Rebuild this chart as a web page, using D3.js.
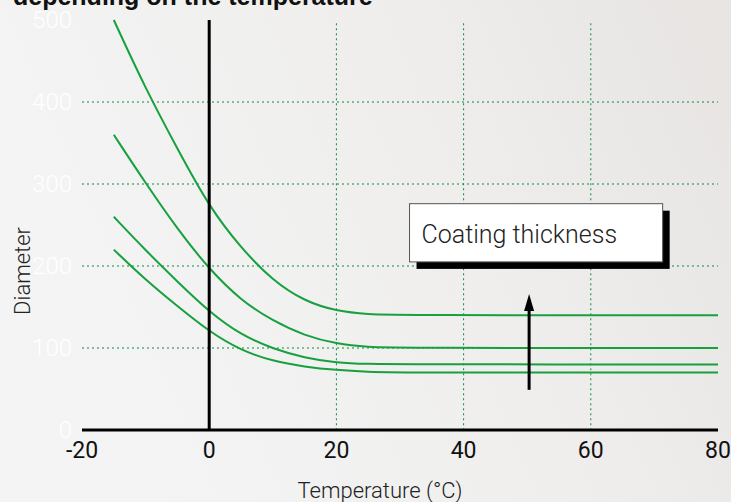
<!DOCTYPE html>
<html>
<head>
<meta charset="utf-8">
<script src="https://cdn.jsdelivr.net/npm/d3@7"></script>
<style>
  body { margin: 0; }
  svg { display: block; font-family: "Liberation Sans", Arial, sans-serif; }
  .light { font-family: Roboto, "Liberation Sans", sans-serif; font-weight: 300; }
  .xlab { font-family: Roboto, "Liberation Sans", sans-serif; font-weight: 400; }
</style>
</head>
<body>
<script>
// temperatures (°C) where each curve was read
const temps = [-15, -10, -5, 0, 5, 10, 15, 20, 25, 30, 80];
// diameter curves, thickest coating on top
const curve1 = [500, 416, 343, 272, 222, 182, 157, 145, 141, 140, 140];
const curve2 = [360, 301, 245, 196, 158, 133, 115, 105, 101, 100, 100];
const curve3 = [260, 219, 181, 144, 116, 99, 88, 82, 80.5, 80, 80];
const curve4 = [220, 183, 151, 120, 97, 84, 77, 73, 71, 70, 70];
const xTicks = [-20, 0, 20, 40, 60, 80];
const yTicks = [0, 100, 200, 300, 400, 500];
const xGrid = [20, 40, 60];
const yGrid = [100, 200, 300, 400];

const width = 731, height = 502;

const x = d3.scaleLinear().domain([-20, 80]).range([82, 718]);
const y = d3.scaleLinear().domain([0, 500]).range([430, 20]);

const svg = d3.select("body").append("svg")
    .attr("width", width)
    .attr("height", height);

// soft grey backdrop
const defs = svg.append("defs");
const grad = defs.append("linearGradient")
    .attr("id", "bg")
    .attr("x1", "0").attr("y1", "0.3")
    .attr("x2", "1").attr("y2", "0");
grad.append("stop").attr("offset", "0").attr("stop-color", "#f4f4f4");
grad.append("stop").attr("offset", "0.55").attr("stop-color", "#efeeed");
grad.append("stop").attr("offset", "1").attr("stop-color", "#e7e4e2");

svg.append("rect")
    .attr("width", width)
    .attr("height", height)
    .attr("fill", "url(#bg)");

// title (first line is above the frame)
svg.append("text")
    .attr("x", 13)
    .attr("y", 5)
    .attr("font-size", 25)
    .attr("font-weight", "bold")
    .attr("fill", "#111")
    .text("depending on the temperature");

// dotted grid
svg.selectAll(".hgrid")
    .data(yGrid)
    .enter()
    .append("line")
    .attr("class", "hgrid")
    .attr("x1", x(-20))
    .attr("x2", x(80))
    .attr("y1", d => y(d))
    .attr("y2", d => y(d))
    .attr("stroke", "#0a8a3e")
    .attr("stroke-width", 1)
    .attr("stroke-dasharray", "2,3");

svg.selectAll(".vgrid")
    .data(xGrid)
    .enter()
    .append("line")
    .attr("class", "vgrid")
    .attr("x1", d => x(d))
    .attr("x2", d => x(d))
    .attr("y1", y(496))
    .attr("y2", y(0))
    .attr("stroke", "#0a8a3e")
    .attr("stroke-width", 1)
    .attr("stroke-dasharray", "2,3");

// y tick labels in white
svg.selectAll(".ylab")
    .data(yTicks)
    .enter()
    .append("text")
    .attr("class", "ylab light")
    .attr("x", 72)
    .attr("y", d => y(d) + 8)
    .attr("text-anchor", "end")
    .attr("font-size", 24)
    .attr("fill", "#ffffff")
    .text(d => d);

// x tick labels
svg.selectAll(".xlab")
    .data(xTicks)
    .enter()
    .append("text")
    .attr("class", "xlab")
    .attr("x", d => x(d))
    .attr("y", 458)
    .attr("text-anchor", "middle")
    .attr("font-size", 23)
    .attr("fill", "#111")
    .text(d => d);

svg.append("text")
    .attr("class", "light")
    .attr("x", 380)
    .attr("y", 498)
    .attr("text-anchor", "middle")
    .attr("font-size", 22)
    .attr("fill", "#222")
    .text("Temperature (°C)");

svg.append("text")
    .attr("class", "light")
    .attr("transform", "translate(30,271) rotate(-90)")
    .attr("text-anchor", "middle")
    .attr("font-size", 22)
    .attr("fill", "#222")
    .text("Diameter");

// curves
const line = d3.line()
    .x(d => x(d[0]))
    .y(d => y(d[1]))
    .curve(d3.curveBasis);

const series = [curve1, curve2, curve3, curve4];
svg.selectAll(".curve")
    .data(series)
    .enter()
    .append("path")
    .attr("class", "curve")
    .attr("d", s => line(temps.map((t, i) => [t, s[i]])))
    .attr("fill", "none")
    .attr("stroke", "#17a03e")
    .attr("stroke-width", 2);

// axes lines
svg.append("line")
    .attr("x1", x(-20)).attr("x2", x(80))
    .attr("y1", y(0)).attr("y2", y(0))
    .attr("stroke", "#000").attr("stroke-width", 3);

svg.append("line")
    .attr("x1", x(0)).attr("x2", x(0))
    .attr("y1", y(500)).attr("y2", y(0))
    .attr("stroke", "#000").attr("stroke-width", 3);

// "coating thickness" arrow
const arrowT = 50.3;
svg.append("line")
    .attr("x1", x(arrowT)).attr("x2", x(arrowT))
    .attr("y1", y(49)).attr("y2", y(150))
    .attr("stroke", "#000").attr("stroke-width", 3);
svg.append("path")
    .attr("d", "M" + x(arrowT) + "," + y(166)
        + "L" + (x(arrowT) - 5) + "," + y(145)
        + "L" + (x(arrowT) + 5) + "," + y(145) + "Z")
    .attr("fill", "#000");

// label box with drop shadow
const box = { t0: 31.5, t1: 71.3, v0: 205, v1: 276 };
svg.append("rect")
    .attr("x", x(box.t0) + 7)
    .attr("y", y(box.v1) + 7)
    .attr("width", x(box.t1) - x(box.t0))
    .attr("height", y(box.v0) - y(box.v1))
    .attr("fill", "#000");
svg.append("rect")
    .attr("x", x(box.t0))
    .attr("y", y(box.v1))
    .attr("width", x(box.t1) - x(box.t0))
    .attr("height", y(box.v0) - y(box.v1))
    .attr("fill", "#fff")
    .attr("stroke", "#555")
    .attr("stroke-width", 1);
svg.append("text")
    .attr("class", "light")
    .attr("x", x(box.t0) + 12)
    .attr("y", y(box.v0) - 19)
    .attr("font-size", 25)
    .attr("fill", "#222")
    .text("Coating thickness");
</script>
</body>
</html>
